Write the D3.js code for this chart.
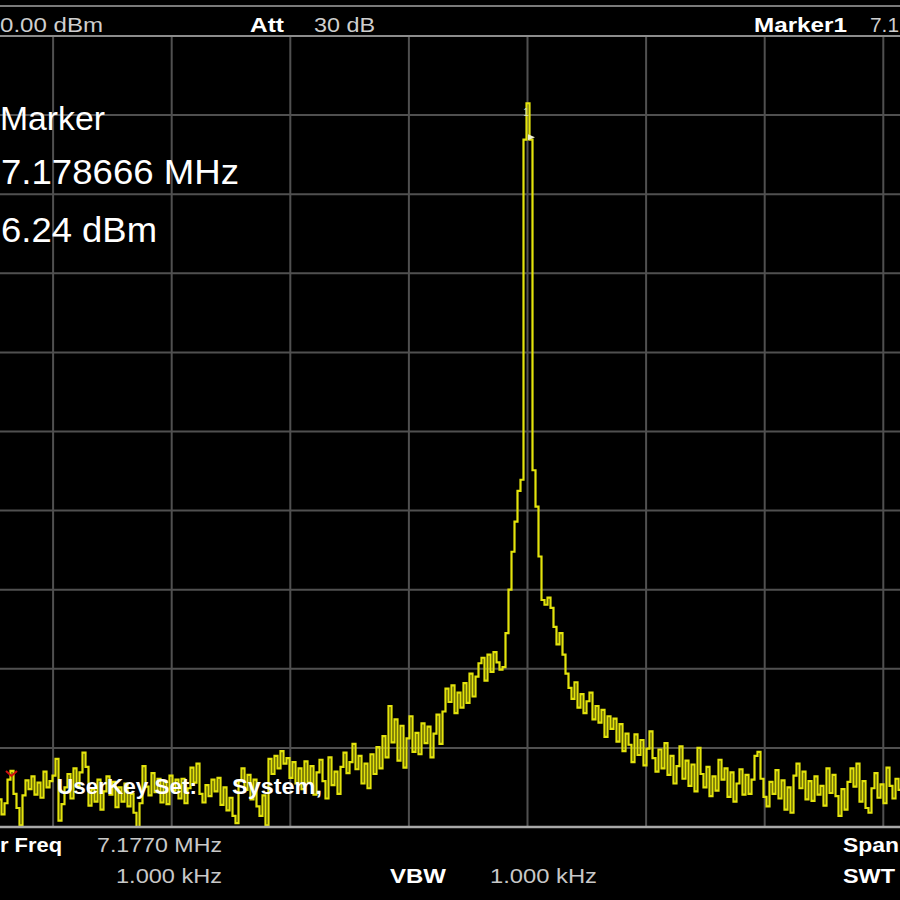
<!DOCTYPE html>
<html><head><meta charset="utf-8">
<script src="https://cdn.jsdelivr.net/npm/d3@7"></script>
<style>html,body{margin:0;padding:0;background:#000;overflow:hidden}</style>
</head><body><svg id="chart" width="900" height="900"></svg>
<script>
// Trace levels in dBm, one sample every trace step across the visible screen
const traceLevels = [
-96.5,-98.4,-97.0,-94.0,-92.9,-95.8,-97.6,-99.8,-96.0,-94.1,
-95.2,-93.6,-95.9,-94.4,-96.3,-93.0,-95.0,-94.2,-93.5,-91.4,
-99.2,-97.1,-95.0,-93.3,-96.4,-92.6,-94.8,-93.1,-90.6,-92.4,
-97.3,-95.2,-96.8,-94.0,-97.8,-95.5,-93.6,-95.9,-94.3,-97.5,
-95.0,-96.8,-94.5,-97.4,-95.8,-98.2,-100.0,-97.0,-92.3,-94.9,
-96.0,-93.2,-95.6,-93.9,-96.9,-94.2,-97.1,-93.5,-95.4,-94.0,
-96.4,-93.9,-97.0,-95.1,-92.5,-94.4,-92.0,-95.8,-96.9,-94.7,
-96.1,-94.0,-95.5,-93.8,-97.2,-95.0,-97.9,-96.3,-98.6,-99.5,
-94.2,-92.6,-95.3,-93.4,-96.5,-94.0,-97.4,-98.6,-96.0,-99.8,
-91.4,-93.3,-91.0,-92.6,-90.4,-92.0,-91.3,-93.8,-91.8,-94.5,
-92.6,-95.2,-91.7,-94.4,-92.3,-95.9,-93.1,-91.5,-94.2,-96.4,
-91.2,-94.7,-93.0,-95.8,-92.4,-90.6,-93.2,-91.8,-89.5,-92.7,
-91.0,-94.5,-92.0,-95.1,-90.8,-93.3,-89.9,-92.6,-88.5,-91.2,
-84.7,-89.3,-86.4,-91.6,-87.2,-92.5,-88.8,-86.0,-90.5,-88.1,
-90.8,-86.9,-89.4,-87.3,-91.2,-88.2,-85.8,-89.5,-85.4,-82.5,
-84.2,-82.1,-85.6,-83.0,-84.9,-81.8,-84.3,-80.6,-83.5,-81.0,
-79.3,-78.6,-81.5,-78.2,-80.4,-77.9,-79.2,-80.1,-79.8,-75.5,
-70.0,-65.2,-61.4,-57.5,-56.1,-13.1,-8.5,-13.1,-54.9,-59.5,
-65.8,-71.3,-71.9,-71.0,-72.3,-74.7,-76.9,-75.5,-78.2,-80.6,
-82.4,-83.8,-81.7,-84.9,-83.2,-85.6,-84.1,-83.0,-86.4,-84.7,
-86.8,-85.2,-88.6,-86.0,-87.6,-86.3,-89.2,-87.0,-90.4,-88.2,
-89.6,-91.8,-88.3,-90.9,-89.0,-92.2,-90.1,-87.9,-91.3,-93.0,
-90.2,-92.6,-89.4,-93.4,-91.0,-94.5,-92.3,-89.8,-93.9,-91.6,
-94.8,-92.1,-95.5,-90.0,-93.3,-95.0,-92.4,-96.1,-93.6,-95.4,
-91.5,-94.0,-92.6,-96.2,-93.1,-96.8,-94.5,-92.7,-95.9,-93.4,
-95.8,-94.0,-91.0,-90.5,-93.9,-96.2,-97.4,-94.3,-95.8,-92.8,
-96.4,-94.1,-97.8,-95.0,-98.2,-93.5,-92.0,-95.1,-93.0,-96.5,
-94.2,-96.7,-93.6,-95.9,-94.8,-97.3,-92.6,-95.7,-93.4,-96.1,
-98.6,-95.2,-97.8,-94.3,-92.6,-94.9,-92.0,-96.8,-94.2,-97.6,
-98.2,-95.1,-93.2,-96.3,-94.6,-97.0,-92.5,-94.8,-96.4,-93.9,
-95.3
];
const levelGrid = [-10,-20,-30,-40,-50,-60,-70,-80,-90];
const divisionGrid = [1,2,3,4,5,6,7,8,9];
const headerLabels = ["Att","Marker1"];
const headerValues = ["0.00 dBm","30 dB","7.1"];
const footerLabels = ["r Freq","VBW","Span","SWT"];
const footerValues = ["7.1770 MHz","1.000 kHz","1.000 kHz"];
const markerLines = ["Marker","7.178666 MHz","6.24 dBm"];
const overlayTexts = ["UserKey Set:","System,"];

const svg = d3.select("#chart");
svg.append("rect").attr("width",900).attr("height",900).attr("fill","#000");

const y = d3.scaleLinear().domain([-100,0]).range([827,36]);
const gx = d3.scaleLinear().domain([0,10]).range([-65.5,1120.5]);
const x = d3.scaleLinear().domain([0,traceLevels.length-1]).range([0,900]);

// grid
svg.append("g").selectAll("line").data(levelGrid).join("line")
  .attr("x1",0).attr("x2",900).attr("y1",d=>y(d)).attr("y2",d=>y(d))
  .attr("stroke","#505050").attr("stroke-width",2);
svg.append("g").selectAll("line").data(divisionGrid).join("line")
  .attr("x1",d=>gx(d)).attr("x2",d=>gx(d)).attr("y1",y(0)).attr("y2",y(-100))
  .attr("stroke","#505050").attr("stroke-width",2);

// borders
svg.append("line").attr("x1",0).attr("x2",900).attr("y1",6).attr("y2",6).attr("stroke","#7a7a7a").attr("stroke-width",2);
svg.append("line").attr("x1",0).attr("x2",900).attr("y1",y(0)).attr("y2",y(0)).attr("stroke","#8c8c8c").attr("stroke-width",2);

// trace
const line = d3.line().x((d,i)=>x(i)).y(d=>y(d)).curve(d3.curveStep);
svg.append("path").datum(traceLevels).attr("d",line)
  .attr("fill","none").attr("stroke","#e3e30c").attr("stroke-width",2.2).attr("stroke-linejoin","miter");

svg.append("line").attr("x1",0).attr("x2",900).attr("y1",y(-100)).attr("y2",y(-100)).attr("stroke","#a8a8a8").attr("stroke-width",2.5);

const font = "'Liberation Sans', Arial, sans-serif";
function txt(s, xx, yy, opt){
  const t = svg.append("text").text(s).attr("x",xx).attr("y",yy)
    .attr("font-family",font).attr("font-size",opt.size||21)
    .attr("font-weight",opt.bold?"bold":"normal")
    .attr("fill",opt.fill||"#fff")
    .attr("text-anchor",opt.anchor||"start");
  if (opt.len) t.attr("textLength",opt.len).attr("lengthAdjust","spacingAndGlyphs");
  return t;
}
// header
txt(headerValues[0], 0, 32, {fill:"#cfcfcf", len:103});
txt(headerLabels[0], 250, 32, {bold:true, len:34});
txt(headerValues[1], 314, 32, {fill:"#cfcfcf", len:61});
txt(headerLabels[1], 754, 32, {bold:true, len:93});
txt(headerValues[2], 870, 32, {fill:"#cfcfcf", len:29});

// footer
txt(footerLabels[0], 0, 852, {bold:true, len:62});
txt(footerValues[0], 97, 852, {fill:"#c8c8c8", len:125});
txt(footerValues[1], 116, 883, {fill:"#c8c8c8", len:106});
txt(footerLabels[1], 390, 883, {bold:true, len:56});
txt(footerValues[2], 490, 883, {fill:"#c8c8c8", len:107});
txt(footerLabels[2], 843, 852, {bold:true, len:56});
txt(footerLabels[3], 843, 883, {bold:true, len:52});

// marker readout
txt(markerLines[0], 0, 130, {size:33, len:105});
txt(markerLines[1], 1, 184, {size:35, len:238});
txt(markerLines[2], 1, 242, {size:35, len:156});

// overlay soft key text
txt(overlayTexts[0], 57, 794, {size:22, bold:true, len:140});
txt(overlayTexts[1], 232, 794, {size:22, bold:true, len:90});

// reference marker (red chevron) and peak marker
svg.append("path").attr("d","M6,771 L11.5,776 L17,771").attr("fill","none").attr("stroke","#d01010").attr("stroke-width",2);
const pk = traceLevels.indexOf(d3.max(traceLevels));
svg.append("text").text("1").attr("x",x(pk)-2).attr("y",y(traceLevels[pk])+13)
  .attr("font-family",font).attr("font-size",10).attr("fill","#e0e0c0").attr("text-anchor","middle");
svg.append("path").attr("d",`M${x(pk)},${y(-12.8)-3} L${x(pk)+7},${y(-12.8)} L${x(pk)},${y(-12.8)+3} Z`)
  .attr("fill","#f0f0d0");
</script></body></html>
